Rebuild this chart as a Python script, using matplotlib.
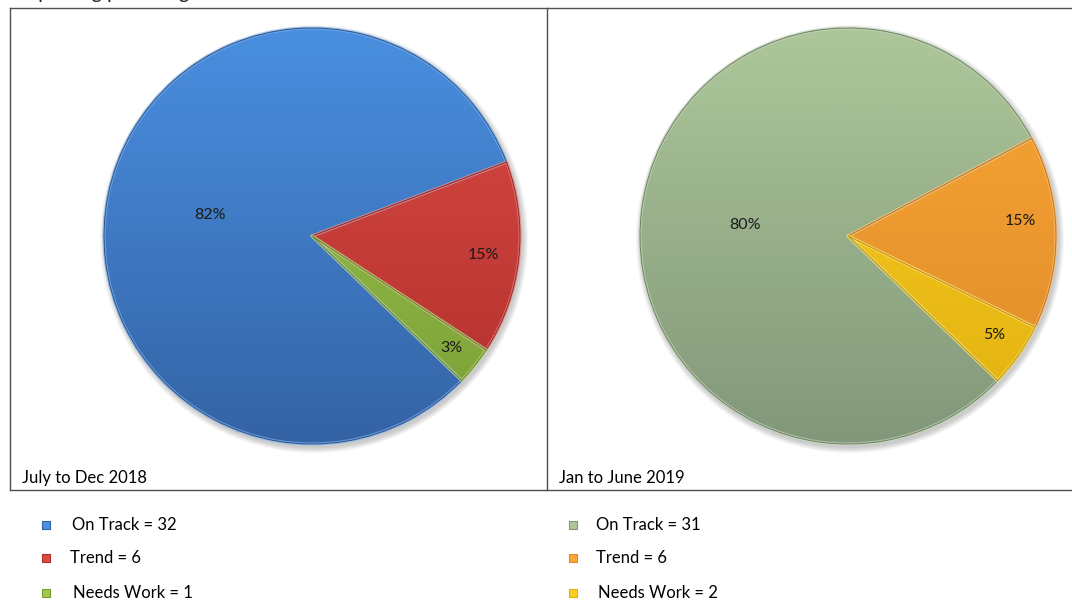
import numpy as np
import matplotlib
matplotlib.use("Agg")
import matplotlib.pyplot as plt
from matplotlib.colors import to_rgb
from matplotlib.patches import PathPatch

# data
categories = ["On Track", "Trend", "Needs Work"]
periods = ["July to Dec 2018", "Jan to June 2019"]
counts_2018 = [32, 6, 1]
counts_2019 = [31, 6, 2]
share_2018 = [82, 15, 3]
share_2019 = [80, 15, 5]
title = "Reporting period against 39 Performance Indicators:"

# colours (top, bottom of gradient)
colors_2018 = [("#4a8fe0", "#3463a5"), ("#dc4a43", "#b0302d"), ("#a0c850", "#7a9e36")]
colors_2019 = [("#adc79a", "#82977a"), ("#f9a735", "#de892a"), ("#fad025", "#e2b00e")]

W, H = 1072, 600
FONT = ["Lato", "DejaVu Sans"]

fig = plt.figure(figsize=(W / 100, H / 100), dpi=100)
ax = fig.add_axes([0, 0, 1, 1])
ax.set_xlim(0, W)
ax.set_ylim(0, H)
ax.axis("off")


def Y(y):
    return H - y


def mix(c, other, t):
    c = np.array(to_rgb(c))
    return c * (1 - t) + np.array(other) * t


def draw_pie(cx, cy, r, values, colors, pcts, dists, shifts):
    # soft shadow
    for k in range(6):
        ax.add_patch(plt.Circle((cx + 2, Y(cy) - 3), r + 1 + k, color="#000000",
                                alpha=0.035, lw=0, zorder=1))
    wedges, _ = ax.pie(values, center=(cx, Y(cy)), radius=r, startangle=-44,
                       counterclock=False, colors=[c[1] for c in colors],
                       wedgeprops=dict(edgecolor="none"), frame=True)
    grad = np.linspace(0, 1, 256)[:, None, None]
    for w, (top, bot) in zip(wedges, colors):
        w.set_zorder(2)
        img = np.array(to_rgb(top)) * (1 - grad) + np.array(to_rgb(bot)) * grad
        im = ax.imshow(img, extent=(cx - r, cx + r, Y(cy) - r, Y(cy) + r),
                       origin="upper", aspect="auto", zorder=3, interpolation="bilinear")
        im.set_clip_path(w)
        # bevel edge
        ax.add_patch(PathPatch(w.get_path(), transform=w.get_transform(), fill=False,
                               zorder=4, edgecolor=mix(top, (1, 1, 1), 0.3),
                               lw=2.2, alpha=0.7, joinstyle="round"))
        ax.add_patch(PathPatch(w.get_path(), transform=w.get_transform(), fill=False,
                               zorder=4, edgecolor=mix(bot, (0, 0, 0), 0.15),
                               lw=0.7, joinstyle="round"))
    for w, p, d, s in zip(wedges, pcts, dists, shifts):
        ang = np.deg2rad((w.theta1 + w.theta2) / 2 + s)
        ax.text(cx + d * r * np.cos(ang), Y(cy) + d * r * np.sin(ang), p,
                ha="center", va="center", fontsize=11.5, family=FONT,
                color="#1a1a1a", zorder=5)
    return wedges


draw_pie(312, 236, 208, share_2018, colors_2018,
         [f"{v}%" for v in share_2018], [0.5, 0.83, 0.86], [0, 0, 0])
draw_pie(848, 236, 208, share_2019, colors_2019,
         [f"{v}%" for v in share_2019], [0.5, 0.83, 0.85], [2, 4, 1])

# panel frame
line_kw = dict(color="#505050", lw=1.0, zorder=6)
ax.plot([10, W], [Y(8), Y(8)], **line_kw)
ax.plot([10, W], [Y(490), Y(490)], **line_kw)
ax.plot([10, 10], [Y(8), Y(490)], **line_kw)
ax.plot([547, 547], [Y(8), Y(490)], **line_kw)

# captions
ax.text(22, Y(478), periods[0], ha="left", va="center", fontsize=12, family=FONT)
ax.text(559, Y(478), periods[1], ha="left", va="center", fontsize=12, family=FONT)

# title, cut off at the top edge as in the source
fig.text(15 / W, 1 + 1.5 / H, title, ha="left", va="baseline", fontsize=14.5,
         family=FONT, color="#222222")

# legends
rows_y = [525, 558, 593]
text_x_2018 = [72, 70, 73]
text_x_2019 = [596, 596, 598]
for i, cat in enumerate(categories):
    ax.scatter([46], [Y(rows_y[i])], marker="s", s=40, color=colors_2018[i][0],
               edgecolors=colors_2018[i][1], linewidths=0.8, zorder=6)
    ax.text(text_x_2018[i], Y(rows_y[i]), f"{cat} = {counts_2018[i]}",
            ha="left", va="center", fontsize=12, family=FONT)
    ax.scatter([573], [Y(rows_y[i])], marker="s", s=40, color=colors_2019[i][0],
               edgecolors=colors_2019[i][1], linewidths=0.8, zorder=6)
    ax.text(text_x_2019[i], Y(rows_y[i]), f"{cat} = {counts_2019[i]}",
            ha="left", va="center", fontsize=12, family=FONT)

ax.set_xlim(0, W)
ax.set_ylim(0, H)
ax.set_aspect("auto")
fig.savefig("out.png", dpi=100)
